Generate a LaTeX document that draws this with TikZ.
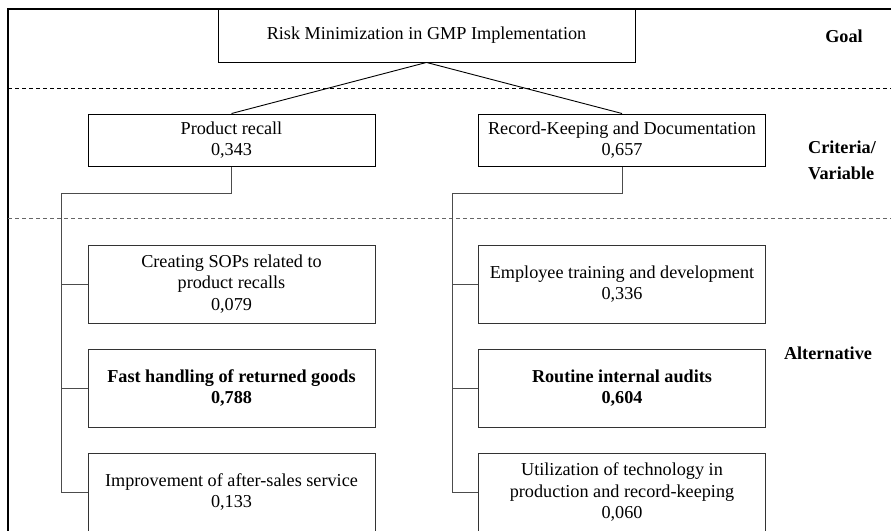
\documentclass[tikz,border=0pt]{standalone}
\usepackage{fontspec}
\setmainfont{Liberation Serif}
\usetikzlibrary{calc}
\begin{document}
\begin{tikzpicture}[x=1pt,y=-1pt,
  every node/.style={font=\fontsize{18.2}{21.5}\selectfont},
  goalbox/.style={draw, line width=0.9pt, inner sep=0pt, align=center,
    minimum width=417pt, minimum height=53pt},
  critbox/.style={draw, line width=1pt, inner sep=0pt, align=center,
    minimum width=287pt, minimum height=52pt},
  altbox/.style={draw=black!80, line width=1pt, inner sep=0pt, align=center,
    minimum width=287pt, minimum height=78pt},
  levellabel/.style={font=\fontsize{18.2}{26}\selectfont\bfseries, align=left},
  link/.style={line width=0.9pt},
  branch/.style={draw=black!70, line width=0.9pt},
  sep/.style={dash pattern=on 4pt off 3pt, line width=0.9pt}
]
\useasboundingbox (0,0) rectangle (891,530);
\clip (0,0) rectangle (891,530);

% outer frame and level separators
\draw[line width=1.6pt] (8,9) rectangle (905,560);
\draw[sep] (8,88) -- (891,88);
\draw[sep, draw=black!60] (8,218) -- (891,218);

% goal
\node[goalbox] (goal) at (426.5,35.5) {Risk Minimization in GMP Implementation};

% criteria
\node[critbox] (pr) at (231.5,140) {Product recall\\0,343};
\node[critbox] (rk) at (622,140) {Record-Keeping and Documentation\\0,657};

% alternatives
\node[altbox] (a1) at (231.5,284) {Creating SOPs related to\\product recalls\\0,079};
\node[altbox] (a2) at (231.5,388) {\textbf{Fast handling of returned goods}\\\textbf{0,788}};
\node[altbox] (a3) at (231.5,492) {Improvement of after-sales service\\0,133};
\node[altbox] (b1) at (622,284) {Employee training and development\\0,336};
\node[altbox] (b2) at (622,388) {\textbf{Routine internal audits}\\\textbf{0,604}};
\node[altbox] (b3) at (622,492) {Utilization of technology in\\production and record-keeping\\0,060};

% level labels
\node[levellabel] (lg) at (844,36) {Goal};
\node[levellabel] (lc) at (842,160) {Criteria/\\Variable};
\node[levellabel] (la) at (828,353) {Alternative};

% goal to criteria
\draw[link] (goal.south) -- (pr.north);
\draw[link] (goal.south) -- (rk.north);

% criteria to alternatives
\draw[branch] (pr.south) -- ++(0,27) -| ($(a3.west)+(-26,0)$) -- (a3.west);
\draw[branch] ($(a1.west)+(-26,0)$) -- (a1.west);
\draw[branch] ($(a2.west)+(-26,0)$) -- (a2.west);
\draw[branch] (rk.south) -- ++(0,27) -| ($(b3.west)+(-26,0)$) -- (b3.west);
\draw[branch] ($(b1.west)+(-26,0)$) -- (b1.west);
\draw[branch] ($(b2.west)+(-26,0)$) -- (b2.west);
\end{tikzpicture}
\end{document}
